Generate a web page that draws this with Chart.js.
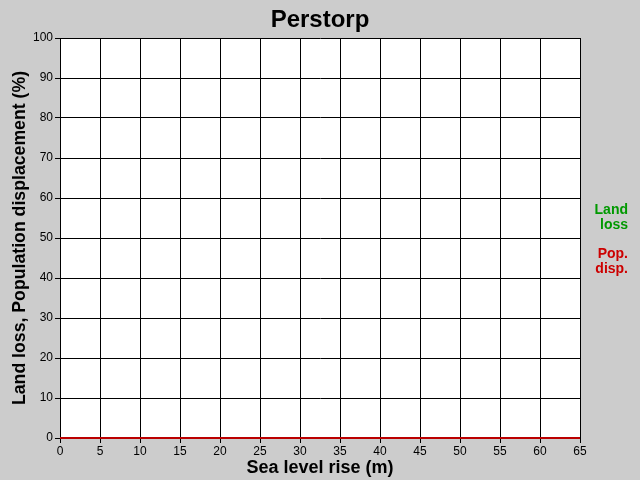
<!DOCTYPE html>
<html>
<head>
<meta charset="utf-8">
<script src="https://cdn.jsdelivr.net/npm/chart.js@4"></script>
<style>
  html, body { margin: 0; padding: 0; background: #cccccc; }
  #wrap { width: 640px; height: 480px; }
</style>
</head>
<body>
<div id="wrap"><canvas id="chart" width="640" height="480"></canvas></div>
<script>
  // Sea level rise (m)
  const seaLevel = [0, 5, 10, 15, 20, 25, 30, 35, 40, 45, 50, 55, 60, 65];
  // Land loss (%)
  const landLoss = [0, 0, 0, 0, 0, 0, 0, 0, 0, 0, 0, 0, 0, 0];
  // Population displacement (%)
  const popDisp = [0, 0, 0, 0, 0, 0, 0, 0, 0, 0, 0, 0, 0, 0];
  const xTicks = [0, 5, 10, 15, 20, 25, 30, 35, 40, 45, 50, 55, 60, 65];
  const yTicks = [0, 10, 20, 30, 40, 50, 60, 70, 80, 90, 100];

  const font = "'Liberation Sans', Arial, sans-serif";

  // white plot area
  const plotBg = {
    id: 'plotBg',
    beforeDraw(chart) {
      const a = chart.chartArea;
      const ctx = chart.ctx;
      ctx.save();
      ctx.fillStyle = '#ffffff';
      ctx.fillRect(a.left, a.top, a.right - a.left, a.bottom - a.top);
      ctx.restore();
    }
  };

  // Title centred on the whole canvas, and side labels on the right
  const textBits = {
    id: 'textBits',
    afterDraw(chart) {
      const ctx = chart.ctx;
      ctx.save();
      ctx.fillStyle = '#000';
      ctx.font = 'bold 24px ' + font;
      ctx.textAlign = 'center';
      ctx.textBaseline = 'alphabetic';
      ctx.fillText('Perstorp', 320, 27);

      ctx.font = 'bold 14px ' + font;
      ctx.textAlign = 'right';
      ctx.textBaseline = 'middle';
      ctx.fillStyle = '#009900';
      ctx.fillText('Land', 628, 210);
      ctx.fillText('loss', 628, 225);
      ctx.fillStyle = '#cc0000';
      ctx.fillText('Pop.', 628, 254);
      ctx.fillText('disp.', 628, 269);
      ctx.restore();
    }
  };

  const ctx = document.getElementById('chart').getContext('2d');
  const chart = new Chart(ctx, {
    type: 'line',
    data: {
      datasets: [{
        label: 'Land loss',
        data: seaLevel.map((x, i) => ({ x: x, y: landLoss[i] })),
        borderColor: '#00aa00',
        borderWidth: 2,
        pointRadius: 0,
        order: 2
      }, {
        label: 'Pop. disp.',
        data: seaLevel.map((x, i) => ({ x: x, y: popDisp[i] })),
        borderColor: '#bb0000',
        borderWidth: 2,
        pointRadius: 0,
        order: 1
      }]
    },
    plugins: [plotBg, textBits],
    options: {
      responsive: false,
      animation: false,
      clip: false,
      layout: { padding: { top: 38, right: 60, left: 0, bottom: 0 } },
      plugins: {
        legend: { display: false },
        tooltip: { enabled: false },
        title: { display: false }
      },
      scales: {
        x: {
          type: 'linear',
          min: 0,
          max: 65,
          afterFit(scale) { scale.height = 42; },
          afterBuildTicks(scale) { scale.ticks = xTicks.map(v => ({ value: v })); },
          grid: { color: '#000', lineWidth: 1, tickLength: 5, tickColor: '#000' },
          border: { color: '#000', width: 1 },
          ticks: { color: '#000', font: { family: font, size: 12 }, padding: 1, maxRotation: 0 },
          title: {
            display: true,
            text: 'Sea level rise (m)',
            color: '#000',
            font: { family: font, size: 18, weight: 'bold' },
            padding: { top: 0, bottom: 1 }
          }
        },
        y: {
          min: 0,
          max: 100,
          afterFit(scale) { scale.width = 60; },
          afterBuildTicks(scale) { scale.ticks = yTicks.map(v => ({ value: v })); },
          grid: { color: '#000', lineWidth: 1, tickLength: 5, tickColor: '#000' },
          border: { color: '#000', width: 1 },
          ticks: { color: '#000', font: { family: font, size: 12 }, padding: 2 },
          title: {
            display: true,
            text: 'Land loss, Population displacement (%)',
            color: '#000',
            font: { family: font, size: 17.7, weight: 'bold' },
            padding: { top: 9, bottom: 0 }
          }
        }
      }
    }
  });
</script>
</body>
</html>
